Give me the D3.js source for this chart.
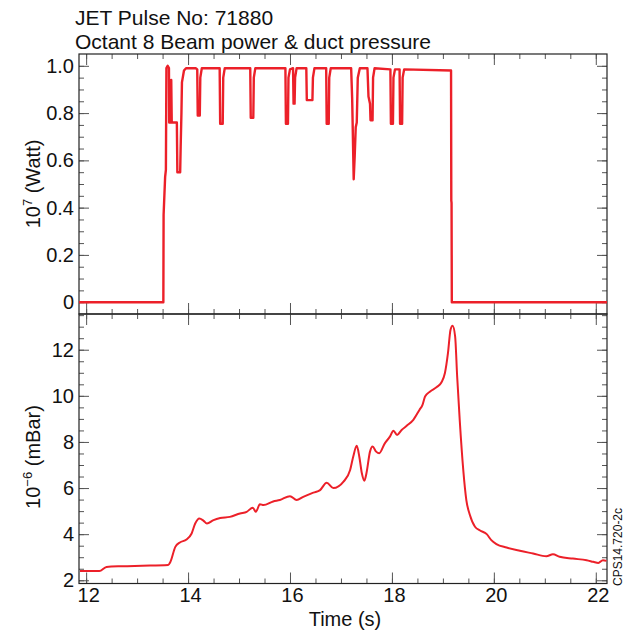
<!DOCTYPE html>
<html><head><meta charset="utf-8">
<script src="https://cdn.jsdelivr.net/npm/d3@7"></script>
<style>body{margin:0;background:#fff}svg{display:block}text{font-family:"Liberation Sans",Arial,sans-serif;fill:#111}</style>
</head><body><svg id="c" width="628" height="637"></svg>
<script>
// ---- data ----
const powerTime = [11.86,13.515,13.52,13.535,13.55,13.565,13.575,13.60,13.625,13.63,13.665,13.67,13.68,13.78,13.79,13.845,13.855,13.87,13.88,13.92,13.96,
 14.15,14.18,14.19,14.23,14.24,14.27,14.62,14.63,14.68,14.69,14.72,15.22,15.23,15.28,15.29,15.32,
 15.91,15.92,15.96,15.97,16.00,16.06,16.07,16.09,16.10,16.13,16.32,16.33,16.44,16.45,16.48,
 16.71,16.72,16.76,16.77,16.80,17.20,17.22,17.25,17.27,17.29,17.31,17.33,17.37,
 17.52,17.54,17.57,17.58,17.62,17.63,17.66,17.97,17.98,18.02,18.03,18.06,18.15,18.16,18.20,18.21,18.24,
 19.16,19.165,19.17,19.175,22.22];
const powerValue = [0,0,0.37,0.45,0.53,0.56,0.99,1.0,0.99,0.76,0.76,0.94,0.76,0.76,0.55,0.55,0.66,0.80,0.93,0.98,0.99,
 0.99,0.985,0.79,0.79,0.95,0.99,0.99,0.755,0.755,0.95,0.99,0.99,0.78,0.78,0.95,0.99,
 0.99,0.755,0.755,0.95,0.985,0.99,0.84,0.84,0.95,0.99,0.99,0.855,0.855,0.95,0.99,
 0.99,0.755,0.755,0.95,0.99,0.99,0.86,0.52,0.62,0.74,0.76,0.95,0.99,
 0.99,0.87,0.84,0.77,0.77,0.95,0.99,0.985,0.755,0.755,0.95,0.985,0.985,0.755,0.755,0.95,0.985,
 0.98,0.43,0.42,0,0];

const pressTime = [11.88,12.26,12.40,12.70,13.10,13.61,13.65,13.75,13.84,13.97,14.07,14.14,14.22,14.30,14.37,14.50,14.63,14.82,15.02,15.15,15.27,15.33,15.41,15.48,15.67,15.80,16.00,16.13,16.26,16.46,16.59,16.72,16.85,17.05,17.18,17.24,17.31,17.36,17.41,17.46,17.50,17.57,17.62,17.69,17.75,17.86,17.96,18.03,18.10,18.19,18.29,18.42,18.54,18.60,18.65,18.75,18.88,18.97,19.04,19.10,19.15,19.19,19.24,19.28,19.33,19.40,19.46,19.53,19.63,19.73,19.86,19.95,20.05,20.25,20.51,20.77,21.03,21.16,21.29,21.55,21.82,21.95,22.05,22.14,22.21];
const pressValue = [2.40,2.40,2.58,2.61,2.63,2.66,2.78,3.45,3.64,3.77,4.03,4.46,4.68,4.59,4.46,4.61,4.70,4.75,4.90,4.97,5.15,4.97,5.30,5.26,5.42,5.48,5.65,5.48,5.62,5.80,5.91,6.23,6.00,6.28,6.78,7.36,7.83,7.36,6.64,6.32,6.64,7.58,7.80,7.58,7.51,7.94,8.23,8.49,8.30,8.52,8.70,8.96,9.39,9.61,9.97,10.19,10.38,10.58,10.99,11.86,12.87,13.04,12.58,10.84,8.96,6.78,5.48,4.83,4.32,4.16,4.00,3.74,3.57,3.42,3.28,3.16,3.04,3.13,3.02,2.94,2.87,2.80,2.75,2.87,2.84];

const timeTicks = [12,14,16,18,20,22];
const timeMinor = d3.range(12,22.01,0.5);
const powerTicks = [0,0.2,0.4,0.6,0.8,1.0];
const powerTickLabels = ["0","0.2","0.4","0.6","0.8","1.0"];
const powerMinor = d3.range(0,1.001,0.05);
const pressTicks = [2,4,6,8,10,12];
const pressMinor = d3.range(2,13.51,0.5);

const title1 = "JET Pulse No: 71880";
const title2 = "Octant 8 Beam power & duct pressure";
const xTitle = "Time (s)";
const refCode = "CPS14.720-2c";

// ---- layout ----
const svg = d3.select("#c");
const X0 = 79, X1 = 607;
const top1 = 54, split = 314, bot2 = 583.5;
const x = d3.scaleLinear().domain([11.86,22.22]).range([X0,X1]);
const yP = d3.scaleLinear().domain([-0.05,1.05]).range([split,top1]);
const yB = d3.scaleLinear().domain([1.86,13.55]).range([bot2,split]);
const red = "#ec2029";

function panel(y, yMajor, yMinor, yFmt, yT, yBt, showX){
  const g = svg.append("g");
  const tickCol = "#555";
  const add = (axis, tx, ty) => {
    const a = g.append("g").attr("transform",`translate(${tx},${ty})`).call(axis);
    a.select(".domain").remove();
    a.selectAll("line").attr("stroke",tickCol).attr("stroke-width",1);
    a.selectAll("text").attr("font-size",20).attr("fill","#111").attr("font-family","Liberation Sans, Arial, sans-serif");
    return a;
  };
  add(d3.axisLeft(y).tickValues(yMinor).tickSize(-5).tickFormat(""), X0, 0);
  add(d3.axisLeft(y).tickValues(yMajor).tickSize(-10).tickPadding(5).tickFormat(yFmt), X0, 0);
  add(d3.axisRight(y).tickValues(yMinor).tickSize(-5).tickFormat(""), X1, 0);
  add(d3.axisRight(y).tickValues(yMajor).tickSize(-10).tickFormat(""), X1, 0);
  add(d3.axisTop(x).tickValues(timeMinor).tickSize(-5).tickFormat(""), 0, yT);
  add(d3.axisTop(x).tickValues(timeTicks).tickSize(-11).tickFormat(""), 0, yT);
  add(d3.axisBottom(x).tickValues(timeMinor).tickSize(-5).tickFormat(""), 0, yBt);
  const bx = add(d3.axisBottom(x).tickValues(timeTicks).tickSize(-11).tickPadding(showX?4:0).tickFormat(showX?d3.format("d"):""), 0, yBt);
  if(showX) bx.selectAll("text").attr("dx","2");
  g.append("rect").attr("x",X0).attr("y",yT).attr("width",X1-X0).attr("height",yBt-yT)
   .attr("fill","none").attr("stroke","#222").attr("stroke-width",1.2);
  return g;
}

panel(yP, powerTicks, powerMinor, (d,i)=>powerTickLabels[i], top1, split, false);
panel(yB, pressTicks, pressMinor, d3.format("d"), split, bot2, true);

svg.append("clipPath").attr("id","cp").append("rect").attr("x",X0).attr("y",top1).attr("width",X1-X0).attr("height",split-top1);
svg.append("clipPath").attr("id","cb").append("rect").attr("x",X0).attr("y",split).attr("width",X1-X0).attr("height",bot2-split);

const powerData = powerTime.map((t,i)=>[t,powerValue[i]]);
const pressData = pressTime.map((t,i)=>[t,pressValue[i]]);

svg.append("path").datum(powerData).attr("clip-path","url(#cp)")
  .attr("d", d3.line().x(d=>x(d[0])).y(d=>yP(d[1])))
  .attr("fill","none").attr("stroke",red).attr("stroke-width",2.4).attr("stroke-linejoin","round");
svg.append("path").datum(pressData).attr("clip-path","url(#cb)")
  .attr("d", d3.line().curve(d3.curveMonotoneX).x(d=>x(d[0])).y(d=>yB(d[1])))
  .attr("fill","none").attr("stroke",red).attr("stroke-width",2).attr("stroke-linejoin","round");

// titles
svg.append("text").attr("x",75).attr("y",25).attr("font-size",21).text(title1);
svg.append("text").attr("x",75).attr("y",49).attr("font-size",21).text(title2);
svg.append("text").attr("x",345).attr("y",626).attr("font-size",20).attr("text-anchor","middle").text(xTitle);

const yl1 = svg.append("text").attr("transform","translate(40,184) rotate(-90)").attr("text-anchor","middle").attr("font-size",20);
yl1.append("tspan").text("10");
yl1.append("tspan").attr("font-size",13).attr("dy",-8).text("7");
yl1.append("tspan").attr("dy",8).text(" (Watt)");
const yl2 = svg.append("text").attr("transform","translate(40,457) rotate(-90)").attr("text-anchor","middle").attr("font-size",20);
yl2.append("tspan").text("10");
yl2.append("tspan").attr("font-size",13).attr("dy",-8).text("\u22126");
yl2.append("tspan").attr("dy",8).text(" (mBar)");

svg.append("text").attr("transform","translate(622,586) rotate(-90)").attr("font-size",12).text(refCode);
</script></body></html>
